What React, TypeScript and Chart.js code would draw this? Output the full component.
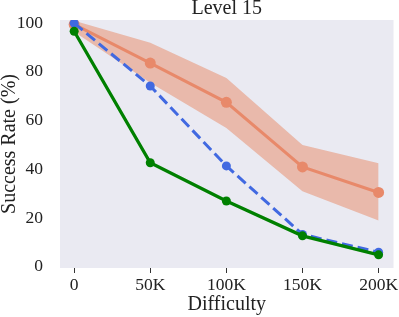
import React, { useEffect, useRef } from "react";
import { Chart, registerables } from "chart.js";

Chart.register(...registerables);

const difficulty = [0, 50000, 100000, 150000, 200000];
const tickLabels = ["0", "50K", "100K", "150K", "200K"];
const yTicks = [0, 20, 40, 60, 80, 100];
const orangeMean = [99.5, 83.6, 67.5, 41, 30.5];
const orangeUpper = [101, 92, 77.5, 50, 42.5];
const orangeLower = [96.5, 75.5, 57, 31, 19];
const blueValues = [100, 74.2, 41.4, 13.3, 6];
const greenValues = [96.7, 42.7, 27, 12.7, 4.9];

const FONT = "'Liberation Serif', 'Times New Roman', serif";

const toXY = (vals: number[]) => vals.map((v, i) => ({ x: difficulty[i], y: v }));

const bgPlugin = {
  id: "bgPlugin",
  beforeDraw(chart: any) {
    const { ctx, chartArea } = chart;
    if (!chartArea) return;
    ctx.save();
    ctx.fillStyle = "#EAEAF2";
    ctx.fillRect(chartArea.left, chartArea.top, chartArea.right - chartArea.left, chartArea.bottom - chartArea.top);
    ctx.restore();
  },
};

export default function App() {
  const ref = useRef<HTMLCanvasElement | null>(null);
  useEffect(() => {
    if (!ref.current) return;
    const chart = new Chart(ref.current, {
      type: "line",
      data: {
        datasets: [
          {
            label: "upper",
            data: toXY(orangeUpper),
            borderWidth: 0,
            pointRadius: 0,
            borderColor: "rgba(0,0,0,0)",
            fill: false,
            order: 5,
          },
          {
            label: "lower",
            data: toXY(orangeLower),
            borderWidth: 0,
            pointRadius: 0,
            borderColor: "rgba(0,0,0,0)",
            backgroundColor: "rgba(232,135,100,0.5)",
            fill: "-1",
            order: 4,
          },
          {
            label: "orange",
            data: toXY(orangeMean),
            borderColor: "#E8896A",
            backgroundColor: "#E8896A",
            borderWidth: 3,
            pointRadius: 5.5,
            pointBorderWidth: 0,
            fill: false,
            order: 3,
          },
          {
            label: "blue",
            data: toXY(blueValues),
            borderColor: "#4169E1",
            backgroundColor: "#4169E1",
            borderWidth: 3,
            borderDash: [11, 5],
            pointRadius: 4.5,
            pointBorderWidth: 0,
            fill: false,
            order: 2,
          },
          {
            label: "green",
            data: toXY(greenValues),
            borderColor: "#008000",
            backgroundColor: "#008000",
            borderWidth: 3.3,
            pointRadius: 4.5,
            pointBorderWidth: 0,
            fill: false,
            order: 1,
          },
        ],
      },
      options: {
        responsive: false,
        animation: false,
        layout: { padding: { left: 0, right: 0, top: 0, bottom: 0 } },
        plugins: {
          legend: { display: false },
          tooltip: { enabled: false },
          title: {
            display: true,
            fullSize: false,
            text: "Level 15",
            color: "#222",
            font: { family: FONT, size: 20, weight: "normal", lineHeight: 0.9 },
            padding: { top: 0, bottom: 2 },
          },
        },
        scales: {
          x: {
            type: "linear",
            min: -9300,
            max: 209800,
            afterBuildTicks(scale: any) {
              scale.ticks = difficulty.map((v) => ({ value: v }));
            },
            afterFit(scale: any) {
              scale.height = 49;
              scale.paddingRight = 0;
              scale.paddingLeft = 0;
            },
            ticks: {
              callback: (v: any) => tickLabels[difficulty.indexOf(Number(v))] ?? "",
              color: "#222",
              font: { family: FONT, size: 17.5 },
              padding: 2,
              maxRotation: 0,
            },
            grid: { drawOnChartArea: false, drawTicks: true, tickLength: 5, color: "#333", lineWidth: 1 },
            border: { display: false },
            title: {
              display: true,
              text: "Difficulty",
              color: "#222",
              font: { family: FONT, size: 20 },
              padding: { top: 0, bottom: 0 },
            },
          },
          y: {
            min: -0.5,
            max: 101.3,
            afterBuildTicks(scale: any) {
              scale.ticks = yTicks.map((v) => ({ value: v }));
            },
            afterFit(scale: any) {
              scale.width = 60;
            },
            ticks: {
              color: "#222",
              font: { family: FONT, size: 17.5 },
              padding: 9,
            },
            grid: { display: false },
            border: { display: false },
            title: {
              display: true,
              text: "Success Rate (%)",
              color: "#222",
              font: { family: FONT, size: 20, lineHeight: 1.0 },
              padding: { top: 0, bottom: 0 },
            },
          },
        },
      },
      plugins: [bgPlugin],
    });
    return () => chart.destroy();
  }, []);
  return (
    <div style={{ position: "absolute", left: 0, top: 0, width: 399, height: 317, background: "#fff" }}>
      <canvas ref={ref} width={399} height={317} style={{ width: 399, height: 317, display: "block" }} />
    </div>
  );
}
